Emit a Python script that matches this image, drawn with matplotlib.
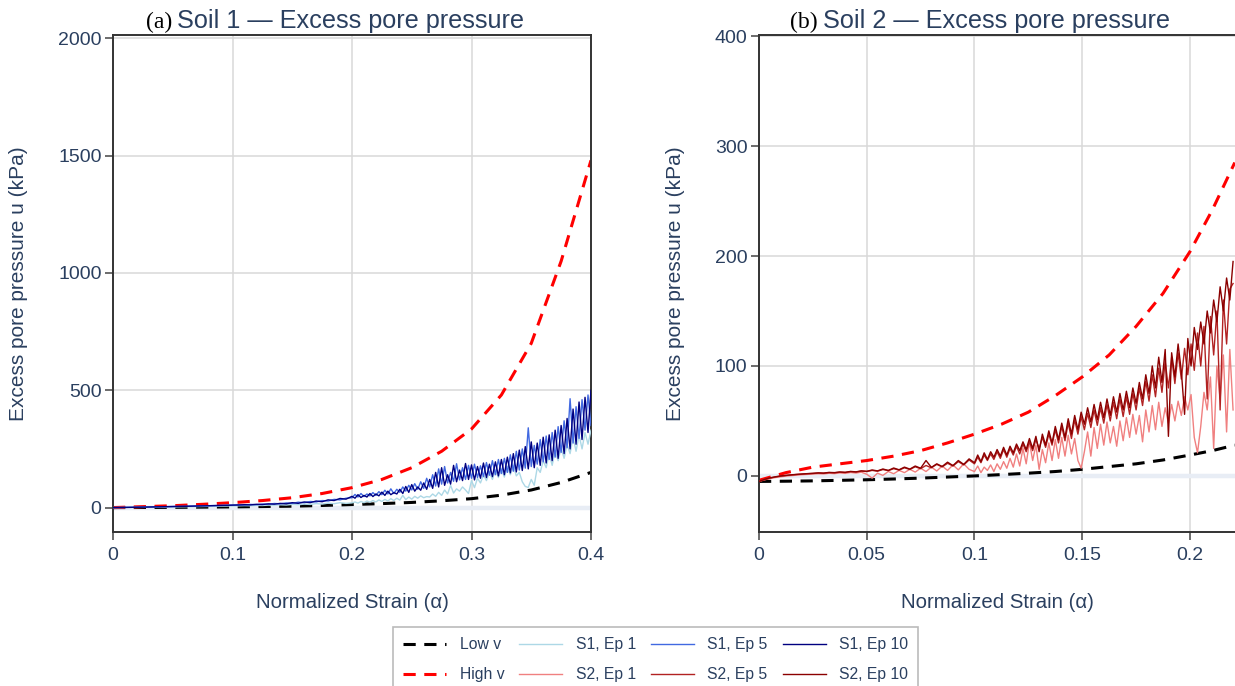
import matplotlib

matplotlib.use("Agg")
import matplotlib.pyplot as plt
import numpy as np

OUT_FILE = "out.png"
SANS = "Liberation Sans"
SERIF = "Liberation Serif"
TEXT_COLOR = "#2a3f5f"

# ---------------- Soil 1 ----------------
S1_CURVE_STRAIN = [0, 0.025, 0.05, 0.075, 0.1, 0.125, 0.15, 0.175, 0.2,
                   0.225, 0.25, 0.275, 0.3, 0.325, 0.35, 0.375, 0.4]
S1_LOW_V = [0, 0.5, 1, 2, 3, 4.5, 6, 9, 13, 17, 22, 29, 38, 53, 75, 107, 150]
S1_HIGH_V = [0, 4, 8, 14, 21, 30, 42, 60, 85, 120, 170, 240, 335, 480, 700, 1050, 1480]

# simulated runs: values evenly spaced in strain over an early and a late range
S1_EARLY_RANGE = (0.0, 0.195)   # 40 samples
S1_LATE_RANGE = (0.2, 0.4)      # 81 samples
S1_EP1_EARLY = [0, 0.2, 0.4, 0.6, 0.9, 1.2, 1.5, 1.8, 2.1, 2.4, 2.8, 3.2, 3.6, 4.0, 4.4,
                4.8, 5.2, 5.7, 6.2, 6.7, 7.2,
                7.8, 8.5, 8, 9.5, 9, 10.5, 10, 12, 11, 13.5, 12, 15, 13.5, 17, 15, 19,
                16.5, 21, 18]
S1_EP1_LATE = [20, 24, 19, 26, 21, 28, 23, 30, 24, 33,
               26, 35, 28, 38, 30, 40, 32, 52, 34, 45,
               36, 48, 40, 50, 42, 47, 45, 58, 48, 65,
               52, 75, 58, 95, 62, 80, 70, 88, 75, 60,
               115, 85, 125, 105, 140, 115, 150, 120, 160, 128,
               165, 130, 175, 140, 180, 135, 150, 110, 90, 86,
               120, 95, 170, 150, 200, 170, 230, 180, 240, 200,
               256, 210, 270, 230, 300, 240, 310, 250, 320, 270, 330]
S1_EP5_EARLY = [0, 0.4, 0.8, 1.2, 1.6, 2.1, 2.6, 3.1, 3.6, 4.1, 4.6, 5.1, 5.7, 6.3, 6.9,
                7.5, 8.1, 8.7, 9.4, 10.1, 10.8,
                12, 11, 13.5, 12.5, 15, 14, 17.5, 16, 20, 18, 23, 21, 26, 24, 30, 28,
                35, 33, 40]
S1_EP5_LATE = [42, 56, 45, 60, 47, 58, 50, 64, 52, 68,
               55, 74, 58, 80, 60, 78, 65, 88, 70, 95,
               75, 102, 78, 110, 82, 125, 88, 140, 92, 165,
               100, 175, 105, 150, 112, 187, 118, 170, 120, 180,
               125, 185, 128, 178, 132, 192, 138, 200, 140, 205,
               145, 210, 150, 225, 155, 240, 160, 250, 168, 340,
               175, 265, 185, 290, 195, 305, 205, 320, 215, 345,
               235, 370, 255, 464, 275, 430, 295, 460, 330, 480, 350]
S1_EP10_EARLY = [0, 0.4, 0.8, 1.2, 1.6, 2.0, 2.5, 3.0, 3.5, 4.0, 4.5, 5.0, 5.5, 6.1, 6.7,
                 7.3, 7.9, 8.5, 9.1, 9.8, 10.5,
                 11, 12.5, 11.5, 14, 13, 16, 14.5, 18, 16, 21, 18, 24, 21, 28, 25, 33,
                 30, 39, 36]
S1_EP10_LATE = [48, 40, 55, 43, 52, 45, 60, 47, 58, 50,
                66, 52, 70, 55, 64, 58, 78, 60, 90, 65,
                98, 70, 88, 74, 105, 78, 120, 82, 150, 88,
                170, 95, 140, 100, 180, 110, 160, 115, 188, 120,
                182, 118, 175, 125, 190, 128, 185, 132, 195, 135,
                205, 140, 215, 148, 230, 152, 245, 158, 260, 165,
                280, 170, 275, 180, 300, 190, 310, 200, 330, 210,
                350, 230, 380, 250, 420, 270, 450, 290, 470, 320, 500]

S1_XLIM = (0, 0.4)
S1_YLIM = (-104, 2014)
S1_XTICKS = [0, 0.1, 0.2, 0.3, 0.4]
S1_XTICK_LABELS = ["0", "0.1", "0.2", "0.3", "0.4"]
S1_YTICKS = [0, 500, 1000, 1500, 2000]

# ---------------- Soil 2 ----------------
S2_CURVE_STRAIN = [0, 0.0125, 0.025, 0.0375, 0.05, 0.0625, 0.075, 0.0875, 0.1, 0.1125,
                   0.125, 0.1375, 0.15, 0.1625, 0.175, 0.1875, 0.2, 0.2104, 0.2208]
S2_LOW_V = [-5, -4.8, -4.5, -4, -3.5, -2.8, -2, -1, 0, 1.2, 2.5, 4, 6, 8.5, 11, 14.5,
            19, 23, 28]
S2_HIGH_V = [-4, 3, 8, 11, 14, 18, 23, 30, 38, 47, 58, 73, 90, 110, 136, 166, 204, 242, 285]

S2_EARLY_RANGE = (0.0, 0.0975)  # 40 samples
S2_LATE_RANGE = (0.1, 0.22)     # 81 samples
S2_EP1_EARLY = [-5, -3.6, -2.4, -1.5, -0.8, -0.2, 0.3, 0.7, 1.1, 1.4,
                1.7, 2, 1.8, 2.4, 2.1, 2.7, 2.3, 3.1, 2.6, 3.4,
                1.5, -2, 2.5, 0.5, 4, 2, 5, 3, 6, 3.5,
                7, 4, 8, 4.5, 9, 5, 10, 5.5, 11, 6]
S2_EP1_LATE = [4, 9, 3, 8, 5, 10, 4, 11, 6, 13,
               7, 16, 8, 20, 9, 25, 11, 31, 14, 28,
               6, 24, 12, 30, 14, 33, 16, 35, 18, 37,
               20, 34, 14, 7, 22, 40, 18, 44, 25, 47,
               28, 49, 30, 45, 27, 50, 32, 53, 35, 56,
               38, 55, 31, 60, 40, 64, 42, 67, 45, 62,
               48, 65, 50, 68, 55, 72, 60, 74, 35, 21,
               45, 76, 60, 90, 25, 100, 70, 110, 40, 115, 60]
S2_EP5_EARLY = [-5, -3.4, -2, -1, -0.2, 0.4, 0.9, 1.3, 1.6, 2,
                2.2, 2.6, 2.4, 3, 2.8, 3.4, 3.1, 3.9, 3.5, 4.4,
                4, 5, 4.3, 5.8, 4.8, 6.6, 5.3, 7.4, 5.9, 8.3,
                6.6, 9.5, 7.4, 10.5, 8.2, 11.5, 9, 13, 10, 14.5]
S2_EP5_LATE = [11, 17, 12, 19, 14, 20, 15, 22, 16, 24,
               17, 25, 19, 27, 20, 29, 22, 31, 23, 33,
               25, 35, 26, 38, 28, 42, 30, 45, 32, 48,
               34, 51, 38, 54, 42, 57, 44, 60, 46, 62,
               48, 65, 50, 67, 52, 70, 54, 72, 56, 75,
               60, 80, 64, 86, 68, 92, 72, 98, 76, 104,
               80, 108, 84, 112, 88, 116, 92, 120, 96, 130,
               100, 136, 70, 145, 110, 150, 60, 160, 120, 170, 175]
S2_EP10_EARLY = [-5, -3.2, -1.8, -0.8, 0, 0.5, 1, 1.4, 1.8, 2.1,
                 2.4, 2.8, 2.6, 3.2, 3, 3.6, 3.3, 4.1, 3.7, 4.6,
                 4.2, 5.4, 4.6, 6.3, 5, 7.2, 5.6, 8, 6.2, 9,
                 7, 14, 7.8, 11, 8.6, 12.5, 9.4, 14, 10.5, 15.5]
S2_EP10_LATE = [12, 19, 13, 21, 15, 22, 17, 24, 18, 26,
                19, 27, 21, 29, 23, 31, 24, 34, 25, 36,
                22, 38, 28, 41, 30, 45, 33, 48, 35, 52,
                38, 55, 42, 58, 47, 62, 49, 65, 51, 67,
                53, 70, 55, 72, 58, 75, 60, 77, 62, 80,
                66, 85, 70, 92, 75, 100, 80, 108, 85, 115,
                36, 112, 90, 120, 95, 56, 125, 100, 135, 115,
                140, 120, 150, 130, 160, 140, 172, 150, 180, 160, 195]

S2_XLIM = (0, 0.2209)
S2_YLIM = (-51, 401)
S2_XTICKS = [0, 0.05, 0.1, 0.15, 0.2]
S2_XTICK_LABELS = ["0", "0.05", "0.1", "0.15", "0.2"]
S2_YTICKS = [0, 100, 200, 300, 400]

S1_COLORS = ["#add8e6", "#4169e1", "#000080"]
S2_COLORS = ["#f08080", "#b22222", "#8b0000"]
EPOCHS = [1, 5, 10]


def sim_strain(early_range, late_range, n_early, n_late):
    return np.concatenate([np.linspace(*early_range, n_early),
                           np.linspace(*late_range, n_late)])


def draw_panel(ax, curve_strain, low, high, early_range, late_range, sims, colors):
    ax.axhline(0, color="#e8edf5", lw=3.2, zorder=1.5)
    low_line, = ax.plot(curve_strain, low, color="black", lw=2.2, dashes=(4, 2.8), zorder=2)
    high_line, = ax.plot(curve_strain, high, color="red", lw=2.2, dashes=(4, 2.8), zorder=2)
    sim_lines = []
    for (early, late), color in zip(sims, colors):
        x = sim_strain(early_range, late_range, len(early), len(late))
        line, = ax.plot(x, early + late, color=color, lw=1.0, zorder=3)
        sim_lines.append(line)
    return low_line, high_line, sim_lines


def style_axes(ax, xlim, ylim, xticks, xlabels, yticks, ylabel_x):
    ax.set_xlim(*xlim)
    ax.set_ylim(*ylim)
    ax.set_xticks(xticks, xlabels)
    ax.set_yticks(yticks, [str(v) for v in yticks])
    ax.grid(True, color="#d8d8d8", lw=1.1, zorder=0)
    ax.set_axisbelow(True)
    for spine in ax.spines.values():
        spine.set_color("#333333")
        spine.set_linewidth(1.4)
    ax.tick_params(axis="both", direction="out", length=6, width=1.1, color="#444444",
                   labelcolor=TEXT_COLOR, labelsize=14)
    ax.tick_params(axis="x", pad=5)
    ax.tick_params(axis="y", pad=2.2)
    for lab in ax.get_xticklabels() + ax.get_yticklabels():
        lab.set_family(SANS)
    ax.set_xlabel("Normalized Strain (α)", family=SANS, fontsize=14.7, color=TEXT_COLOR)
    ax.set_ylabel("Excess pore pressure u (kPa)", family=SANS, fontsize=15, color=TEXT_COLOR)
    ax.xaxis.set_label_coords(0.5, -0.123)
    ax.yaxis.set_label_coords(ylabel_x, 0.5)


def main():
    W, H = 1235, 686
    fig = plt.figure(figsize=(W / 100, H / 100), dpi=100)
    ax1 = fig.add_axes([113 / W, 1 - 532 / H, 478 / W, 497 / H])
    ax2 = fig.add_axes([759 / W, 1 - 532 / H, 476 / W, 497 / H])

    s1_sims = [(S1_EP1_EARLY, S1_EP1_LATE), (S1_EP5_EARLY, S1_EP5_LATE),
               (S1_EP10_EARLY, S1_EP10_LATE)]
    s2_sims = [(S2_EP1_EARLY, S2_EP1_LATE), (S2_EP5_EARLY, S2_EP5_LATE),
               (S2_EP10_EARLY, S2_EP10_LATE)]
    low1, high1, sims1 = draw_panel(ax1, S1_CURVE_STRAIN, S1_LOW_V, S1_HIGH_V,
                                    S1_EARLY_RANGE, S1_LATE_RANGE, s1_sims, S1_COLORS)
    _, _, sims2 = draw_panel(ax2, S2_CURVE_STRAIN, S2_LOW_V, S2_HIGH_V,
                             S2_EARLY_RANGE, S2_LATE_RANGE, s2_sims, S2_COLORS)

    style_axes(ax1, S1_XLIM, S1_YLIM, S1_XTICKS, S1_XTICK_LABELS, S1_YTICKS, -0.178)
    style_axes(ax2, S2_XLIM, S2_YLIM, S2_XTICKS, S2_XTICK_LABELS, S2_YTICKS, -0.156)
    ax2.spines["right"].set_visible(False)

    # panel titles: serif tag + sans text
    for tag, text, x_tag, x_text in [("(a)", "Soil 1 — Excess pore pressure", 172, 177),
                                     ("(b)", "Soil 2 — Excess pore pressure", 818, 823)]:
        fig.text(x_tag / W, 1 - 28 / H, tag, family=SERIF, fontsize=17, color="black",
                 ha="right", va="baseline")
        fig.text(x_text / W, 1 - 28 / H, text, family=SANS, fontsize=18.2, color=TEXT_COLOR,
                 ha="left", va="baseline")

    handles = [low1, high1]
    labels = ["Low v", "High v"]
    for ep, h1, h2 in zip(EPOCHS, sims1, sims2):
        handles += [h1, h2]
        labels += [f"S1, Ep {ep}", f"S2, Ep {ep}"]
    leg = fig.legend(handles, labels, loc="upper left", bbox_to_anchor=(393 / W, 1 - 627 / H),
                     borderaxespad=0, ncol=4, frameon=True, fancybox=False, framealpha=1,
                     edgecolor="#bbbbbb", borderpad=0.65, handlelength=2.75,
                     handletextpad=0.85, columnspacing=0.95, labelspacing=0.95,
                     prop={"family": SANS, "size": 11.3}, labelcolor=TEXT_COLOR)
    leg.get_frame().set_linewidth(1.2)

    fig.savefig(OUT_FILE, dpi=100, facecolor="white")
    plt.close(fig)


if __name__ == "__main__":
    main()
